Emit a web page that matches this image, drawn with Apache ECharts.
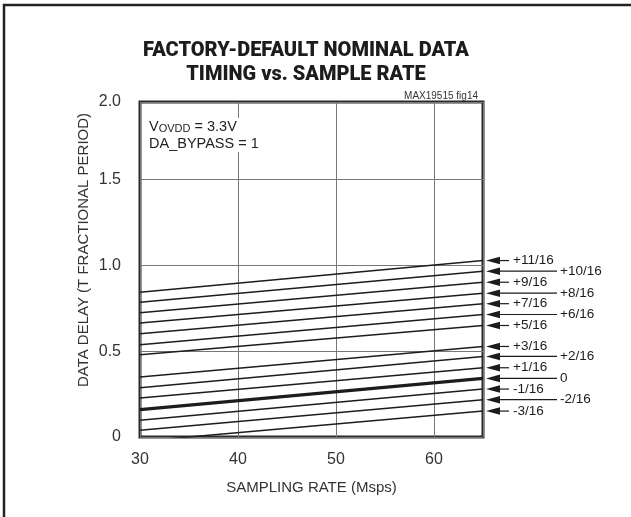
<!DOCTYPE html>
<html>
<head>
<meta charset="utf-8">
<script src="https://cdn.jsdelivr.net/npm/echarts@6/dist/echarts.min.js"></script>
<style>
html,body{margin:0;padding:0;background:#fff;}
#chart{width:631px;height:517px;}
</style>
</head>
<body>
<div id="chart"></div>
<script>
// ---- data ----
var lineLabels = ['+11/16','+10/16','+9/16','+8/16','+7/16','+6/16','+5/16','+3/16','+2/16','+1/16','0','-1/16','-2/16','-3/16'];
var rateStart = 30;
var rateEnd = 65;
var delayAtStart = [0.843,0.785,0.723,0.663,0.601,0.537,0.479,0.349,0.287,0.227,0.159,0.097,0.039,-0.025];
var delayAtEnd   = [1.027,0.965,0.901,0.837,0.776,0.713,0.649,0.527,0.469,0.403,0.341,0.279,0.217,0.151];
var xTicks = [30,40,50,60];
var yTickLabels = ['0','0.5','1.0','1.5','2.0'];

var FONT = '"Liberation Sans", Arial, sans-serif';
var INK = '#1c1c1c';

var chart = echarts.init(document.getElementById('chart'), null, {renderer:'canvas'});

var series = lineLabels.map(function(lab, i){
  return {
    type:'line',
    name: lab,
    data: [[rateStart, delayAtStart[i]], [rateEnd, delayAtEnd[i]]],
    symbol:'none',
    silent:true,
    clip:true,
    lineStyle:{color:INK, width: lab === '0' ? 3.2 : 1.5},
    z:3
  };
});

// right-hand arrow labels, positioned via the axes
series.push({
  type:'custom',
  clip:false,
  silent:true,
  z:4,
  data: lineLabels.map(function(lab, i){ return [rateEnd, delayAtEnd[i], i]; }),
  renderItem: function(params, api){
    var p = api.coord([api.value(0), api.value(1)]);
    var idx = api.value(2);
    var lab = lineLabels[idx];
    var num = Math.abs(parseInt(lab, 10));
    var isLong = (num % 2 === 0);
    var x = p[0], y = p[1];
    var tipX = x + 3, baseX = x + 17;
    var endX = isLong ? x + 74 : x + 26;
    var textX = isLong ? x + 77 : x + 30;
    return {
      type:'group',
      children:[
        {type:'polygon', shape:{points:[[tipX,y],[baseX,y-3.8],[baseX,y+3.8]]}, style:{fill:INK}},
        {type:'line', shape:{x1:baseX, y1:y, x2:endX, y2:y}, style:{stroke:INK, lineWidth:1.2}},
        {type:'text', x:textX, y:y, style:{text:lab, fill:INK, font:'13.5px ' + FONT, textAlign:'left', textVerticalAlign:'middle'}}
      ]
    };
  }
});

var option = {
  animation:false,
  backgroundColor:'#fff',
  title:{
    text:'FACTORY-DEFAULT NOMINAL DATA\nTIMING vs. SAMPLE RATE',
    left:301, top:34, textAlign:'center',
    textStyle:{fontFamily:'Roboto, "Liberation Sans", sans-serif', fontWeight:900, fontSize:20, lineHeight:24, color:INK}
  },
  grid:{left:140, right:148, top:102, bottom:80, show:true, borderColor:'#2a2a2a', borderWidth:3, backgroundColor:'transparent'},
  xAxis:{
    type:'value', min:30, max:65, interval:10,
    name:'SAMPLING RATE (Msps)', nameLocation:'middle', nameGap:43,
    nameTextStyle:{fontFamily:FONT, fontSize:15, color:'#333'},
    axisLine:{show:false}, axisTick:{show:false},
    axisLabel:{showMaxLabel:false, margin:15, fontFamily:FONT, fontSize:16, color:'#333',
      formatter:function(v){ return xTicks.indexOf(v) >= 0 ? String(v) : ''; }},
    splitLine:{show:true, lineStyle:{color:'#777', width:1}}
  },
  yAxis:{
    type:'value', min:0, max:1.95, interval:0.5,
    axisLine:{show:false}, axisTick:{show:false},
    axisLabel:{showMaxLabel:true, margin:19, fontFamily:FONT, fontSize:16, color:'#333',
      formatter:function(v){ var k = Math.round(v/0.5); return yTickLabels[k] || ''; }},
    splitLine:{show:true, lineStyle:{color:'#777', width:1}}
  },
  graphic:[
    {type:'polyline', shape:{points:[[4,517],[4,5],[631,5]]}, style:{stroke:'#222', lineWidth:2.5, fill:null}, silent:true},
    {type:'text', x:84, y:250, rotation:Math.PI/2,
      style:{text:'DATA DELAY (T FRACTIONAL PERIOD)', font:'15px ' + FONT, fill:'#333', textAlign:'center', textVerticalAlign:'middle'}},
    {type:'text', right:153, top:91,
      style:{text:'MAX19515 fig14', font:'10px ' + FONT, fill:'#333'}},
    {type:'text', left:149, top:118, z:10,
      style:{
        text:'{a|V}{s|OVDD}{a| = 3.3V}\n{a|DA_BYPASS = 1}',
        backgroundColor:'#fff',
        rich:{
          a:{fontFamily:FONT, fontSize:14.5, lineHeight:17, fill:'#222'},
          s:{fontFamily:FONT, fontSize:11, lineHeight:17, fill:'#222', padding:[5,0,0,0]}
        }
      }}
  ],
  series: series
};
chart.setOption(option);
</script>
</body>
</html>
